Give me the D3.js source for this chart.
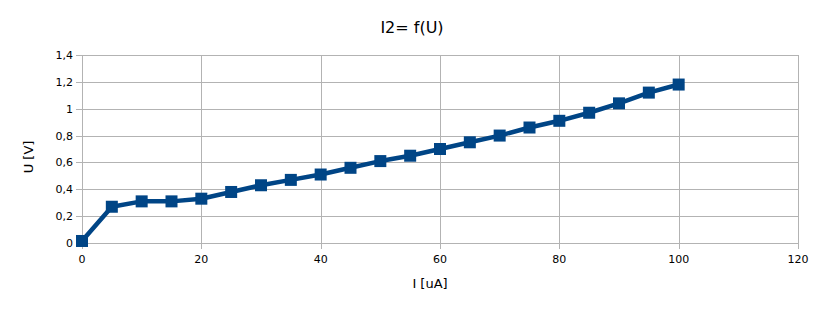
<!DOCTYPE html>
<html><head><meta charset="utf-8">
<script src="https://cdn.jsdelivr.net/npm/d3@7"></script>
<style>body{margin:0;background:#fff}svg{display:block}text{font-family:"DejaVu Sans",sans-serif}</style>
</head><body><svg id="c" width="825" height="310"></svg>
<script>
const currents = [0,5,10,15,20,25,30,35,40,45,50,55,60,65,70,75,80,85,90,95,100];
const voltages = [0.015,0.27,0.31,0.31,0.33,0.38,0.43,0.47,0.51,0.56,0.61,0.65,0.70,0.75,0.80,0.86,0.91,0.97,1.04,1.12,1.18];
const xTicks = [0,20,40,60,80,100,120];
const yTicks = [0,0.2,0.4,0.6,0.8,1,1.2,1.4];
const yTickLabels = ["0","0,2","0,4","0,6","0,8","1","1,2","1,4"];
const title = "I2= f(U)", xTitle = "I [uA]", yTitle = "U [V]";

const svg = d3.select("#c");
const L=82,R=798,T=55,B=243;
const x = d3.scaleLinear().domain([0,120]).range([L,R]);
const y = d3.scaleLinear().domain([0,1.4]).range([B,T]);
const grid="#b3b3b3";

// grid
svg.append("g").selectAll("line").data(yTicks).join("line")
  .attr("x1",L-6).attr("x2",R).attr("y1",d=>Math.round(y(d))+0.5).attr("y2",d=>Math.round(y(d))+0.5)
  .attr("stroke",grid).attr("stroke-width",1);
svg.append("g").selectAll("line").data(xTicks).join("line")
  .attr("y1",T).attr("y2",B+6).attr("x1",d=>Math.round(x(d))+0.5).attr("x2",d=>Math.round(x(d))+0.5)
  .attr("stroke",grid).attr("stroke-width",1);

// tick labels
svg.append("g").selectAll("text").data(yTicks).join("text")
  .attr("x",L-9).attr("y",d=>y(d)+4).attr("text-anchor","end")
  .attr("font-size",11).attr("fill","#000").text((d,i)=>yTickLabels[i]);
svg.append("g").selectAll("text").data(xTicks).join("text")
  .attr("x",d=>x(d)).attr("y",B+20).attr("text-anchor","middle")
  .attr("font-size",11).attr("fill","#000").text(d=>d);

// titles
svg.append("text").attr("x",412).attr("y",33).attr("text-anchor","middle").attr("font-size",16).text(title);
svg.append("text").attr("x",430).attr("y",288).attr("text-anchor","middle").attr("font-size",13).text(xTitle);
svg.append("text").attr("transform","translate(33,157) rotate(-90)").attr("text-anchor","middle").attr("font-size",13).text(yTitle);

// line
const pts = currents.map((c,i)=>[c,voltages[i]]);
svg.append("path").datum(pts)
  .attr("d",d3.line().x(d=>x(d[0])).y(d=>y(d[1])))
  .attr("fill","none").attr("stroke","#004586").attr("stroke-width",4.5).attr("stroke-linejoin","round");
const s=12;
svg.append("g").selectAll("rect").data(pts).join("rect")
  .attr("x",d=>x(d[0])-s/2).attr("y",d=>y(d[1])-s/2).attr("width",s).attr("height",s)
  .attr("fill","#004586");
</script></body></html>
